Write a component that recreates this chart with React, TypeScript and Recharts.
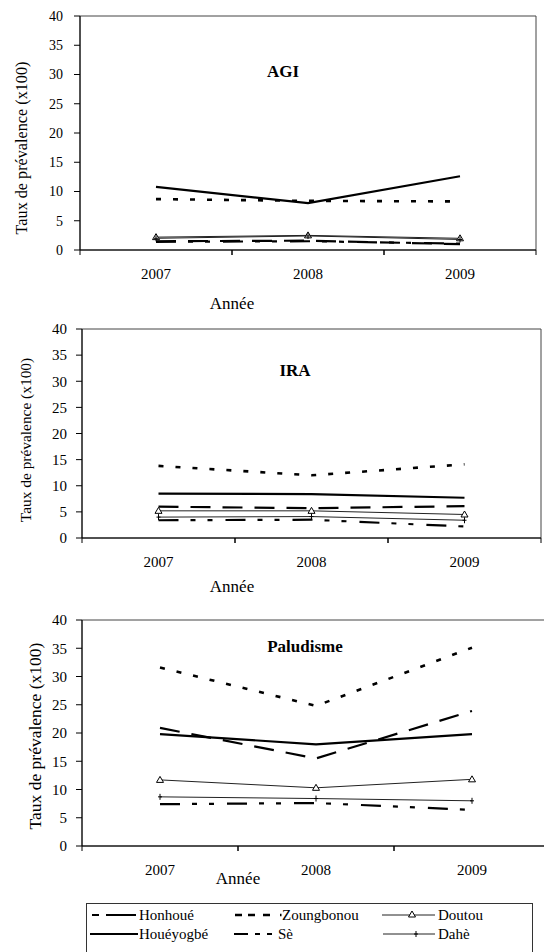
import React from 'react';
import { LineChart, Line, XAxis, YAxis, ReferenceArea, Legend } from 'recharts';

const FONT = "'Liberation Serif', 'DejaVu Serif', 'Times New Roman', Times, serif";

const years = ['2007', '2008', '2009'];
const yTicks = [0, 5, 10, 15, 20, 25, 30, 35, 40];
const seriesNames = ['Honhoué', 'Zoungbonou', 'Doutou', 'Houéyogbé', 'Sè', 'Dahè'];

// AGI
const agiHonhoue = [1.5, 1.6, 1.0];
const agiZoungbonou = [8.7, 8.4, 8.3];
const agiDoutou = [2.2, 2.5, 2.0];
const agiHoueyogbe = [10.8, 8.0, 12.6];
const agiSe = [1.4, 1.5, 1.1];
const agiDahe = [2.0, 2.4, 1.8];

// IRA
const iraHonhoue = [6.0, 5.7, 6.1];
const iraZoungbonou = [13.8, 12.0, 14.1];
const iraDoutou = [5.2, 5.2, 4.5];
const iraHoueyogbe = [8.5, 8.4, 7.7];
const iraSe = [3.4, 3.5, 2.2];
const iraDahe = [4.0, 4.1, 3.4];

// Paludisme
const paluHonhoue = [20.9, 15.5, 23.9];
const paluZoungbonou = [31.6, 24.8, 35.1];
const paluDoutou = [11.7, 10.3, 11.8];
const paluHoueyogbe = [19.8, 18.0, 19.8];
const paluSe = [7.4, 7.6, 6.4];
const paluDahe = [8.7, 8.4, 8.0];

function buildRows(values: number[][]) {
  return years.map((year, i) => {
    const row: any = { year };
    seriesNames.forEach((n, k) => {
      row[n] = values[k][i];
    });
    return row;
  });
}

const agiRows = buildRows([agiHonhoue, agiZoungbonou, agiDoutou, agiHoueyogbe, agiSe, agiDahe]);
const iraRows = buildRows([iraHonhoue, iraZoungbonou, iraDoutou, iraHoueyogbe, iraSe, iraDahe]);
const paluRows = buildRows([paluHonhoue, paluZoungbonou, paluDoutou, paluHoueyogbe, paluSe, paluDahe]);

const seriesStyle: Record<string, any> = {
  'Honhoué': { stroke: '#000', width: 2.2, dash: '20 12', marker: null },
  'Zoungbonou': { stroke: '#000', width: 2.6, dash: '5 12', marker: null },
  'Doutou': { stroke: '#222', width: 1, dash: undefined, marker: 'triangle' },
  'Houéyogbé': { stroke: '#000', width: 2.2, dash: undefined, marker: null },
  'Sè': { stroke: '#000', width: 2.2, dash: '20 12 5 12 5 13', marker: null },
  'Dahè': { stroke: '#222', width: 1, dash: undefined, marker: 'plus' },
};

const TriangleDot = (p: any) => {
  const { cx, cy } = p;
  if (cx == null || cy == null) return <g />;
  return (
    <path
      d={`M${cx},${cy - 3.5}L${cx + 3.5},${cy + 2.5}L${cx - 3.5},${cy + 2.5}Z`}
      fill="#fff"
      stroke="#000"
      strokeWidth={1}
    />
  );
};

const PlusDot = (p: any) => {
  const { cx, cy } = p;
  if (cx == null || cy == null) return <g />;
  return (
    <g>
      <line x1={cx} y1={cy - 3} x2={cx} y2={cy + 3} stroke="#000" strokeWidth={1} />
      <line x1={cx - 2} y1={cy} x2={cx + 2} y2={cy} stroke="#000" strokeWidth={1} />
    </g>
  );
};

const XTick = (props: any) => {
  const { x, y, payload, half, fontSize } = props;
  return (
    <g>
      <line x1={x - half} y1={y} x2={x - half} y2={y + 5} stroke="#000" strokeWidth={1} />
      <line x1={x + half} y1={y} x2={x + half} y2={y + 5} stroke="#000" strokeWidth={1} />
      <text
        x={x}
        y={y + 24}
        textAnchor="middle"
        dominantBaseline="central"
        style={{ fontFamily: FONT, fontSize }}
        fill="#000"
      >
        {payload.value}
      </text>
    </g>
  );
};

// row, column and sample positions of each legend entry (relative to the legend box)
const legendLayout: Record<string, any> = {
  'Honhoué': { row: 0, x1: 6, x2: 50, tx: 53, dash: '7 7 30 20' },
  'Zoungbonou': { row: 0, x1: 149, x2: 196, tx: 196, dash: '7 6 7 8 7 10 1.5 40' },
  'Doutou': { row: 0, x1: 296, x2: 349, tx: 352, dash: undefined, mx: 326 },
  'Houéyogbé': { row: 1, x1: 4, x2: 52, tx: 53, dash: undefined },
  'Sè': { row: 1, x1: 148, x2: 190, tx: 192, dash: '14 7 5 7 5 30' },
  'Dahè': { row: 1, x1: 297, x2: 349, tx: 352, dash: undefined, mx: 330 },
};

const LegendBox = (props: any) => {
  const payload = props.payload || [];
  return (
    <svg width={460} height={70} style={{ position: 'absolute', left: 0, top: 0, overflow: 'visible' }}>
      <rect x={0.5} y={0.5} width={446} height={90} fill="#fff" stroke="#333" strokeWidth={1} />
      {payload.map((entry: any) => {
        const name = entry.value;
        const lay = legendLayout[name];
        const st = seriesStyle[name];
        if (!lay || !st) return null;
        const ly = lay.row === 0 ? 12 : 31;
        return (
          <g key={name}>
            <line
              x1={lay.x1}
              y1={ly}
              x2={lay.x2}
              y2={ly}
              stroke={st.stroke}
              strokeWidth={st.width}
              strokeDasharray={lay.dash}
            />
            {st.marker === 'triangle' ? <TriangleDot cx={lay.mx} cy={ly - 0.5} /> : null}
            {st.marker === 'plus' ? <PlusDot cx={lay.mx} cy={ly} /> : null}
            <text
              x={lay.tx}
              y={ly}
              dominantBaseline="central"
              style={{ fontFamily: FONT, fontSize: 15 }}
              fill="#000"
            >
              {name}
            </text>
          </g>
        );
      })}
    </svg>
  );
};

type PanelProps = {
  rows: any[];
  title: string;
  top: number;
  width: number;
  height: number;
  margin: { top: number; right: number; bottom: number; left: number };
  yAxisWidth: number;
  yTickFont: number;
  yTickMargin: number;
  xTickFont: number;
  titlePos: [number, number];
  yLabelPos: [number, number];
  yLabelFont: number;
  xLabelPos: [number, number];
  xLabelFont: number;
  withLegend?: boolean;
};

const Panel = (p: PanelProps) => {
  const plotWidth = p.width - p.margin.left - p.margin.right - p.yAxisWidth;
  const half = plotWidth / years.length / 2;
  return (
    <div style={{ position: 'absolute', left: 0, top: p.top, width: p.width, height: p.height }}>
      <LineChart width={p.width} height={p.height} data={p.rows} margin={p.margin}>
        <ReferenceArea y1={0} y2={40} fill="none" stroke="#444" strokeWidth={1} ifOverflow="visible" />
        <XAxis
          dataKey="year"
          type="category"
          scale="band"
          height={40}
          interval={0}
          tickLine={false}
          tickSize={0}
          tickMargin={0}
          axisLine={{ stroke: '#000', strokeWidth: 1 }}
          tick={(props: any) => <XTick {...props} half={half} fontSize={p.xTickFont} />}
        />
        <YAxis
          type="number"
          domain={[0, 40]}
          ticks={yTicks}
          interval={0}
          width={p.yAxisWidth}
          tickSize={6}
          tickMargin={p.yTickMargin}
          axisLine={{ stroke: '#000', strokeWidth: 1 }}
          tickLine={{ stroke: '#000', strokeWidth: 1 }}
          tick={{ fill: '#000', fontSize: p.yTickFont, fontFamily: FONT, style: { fontFamily: FONT } }}
        />
        {seriesNames.map((name) => {
          const st = seriesStyle[name];
          const dot =
            st.marker === 'triangle'
              ? (props: any) => <TriangleDot key={`${name}-${props.index}`} {...props} />
              : st.marker === 'plus'
              ? (props: any) => <PlusDot key={`${name}-${props.index}`} {...props} />
              : false;
          return (
            <Line
              key={name}
              dataKey={name}
              name={name}
              type="linear"
              stroke={st.stroke}
              strokeWidth={st.width}
              strokeDasharray={st.dash}
              dot={dot as any}
              activeDot={false}
              isAnimationActive={false}
            />
          );
        })}
        {p.withLegend ? (
          <Legend
            content={(props: any) => <LegendBox {...props} />}
            wrapperStyle={{ position: 'absolute', left: 86, top: 303, bottom: 'auto', width: 447, height: 0, margin: 0 }}
          />
        ) : null}
        <text
          x={p.titlePos[0]}
          y={p.titlePos[1]}
          textAnchor="middle"
          dominantBaseline="central"
          style={{ fontFamily: FONT, fontSize: 17, fontWeight: 'bold' }}
          fill="#000"
        >
          {p.title}
        </text>
        <text
          x={p.yLabelPos[0]}
          y={p.yLabelPos[1]}
          textAnchor="middle"
          dominantBaseline="central"
          transform={`rotate(-90 ${p.yLabelPos[0]} ${p.yLabelPos[1]})`}
          style={{ fontFamily: FONT, fontSize: p.yLabelFont }}
          fill="#000"
        >
          Taux de prévalence (x100)
        </text>
        <text
          x={p.xLabelPos[0]}
          y={p.xLabelPos[1]}
          textAnchor="middle"
          dominantBaseline="central"
          style={{ fontFamily: FONT, fontSize: p.xLabelFont }}
          fill="#000"
        >
          Année
        </text>
      </LineChart>
    </div>
  );
};

export default function App() {
  return (
    <div
      style={{
        position: 'absolute',
        left: 0,
        top: 0,
        width: 544,
        height: 952,
        overflow: 'hidden',
        background: '#fff',
      }}
    >
      <Panel
        rows={agiRows}
        title="AGI"
        top={0}
        width={544}
        height={320}
        margin={{ top: 16, right: 8, bottom: 30, left: 0 }}
        yAxisWidth={80}
        yTickFont={14}
        yTickMargin={11}
        xTickFont={15}
        titlePos={[283, 71]}
        yLabelPos={[22, 148]}
        yLabelFont={16.2}
        xLabelPos={[232, 303]}
        xLabelFont={17}
      />
      <Panel
        rows={iraRows}
        title="IRA"
        top={300}
        width={544}
        height={300}
        margin={{ top: 29, right: 3, bottom: 22, left: 0 }}
        yAxisWidth={82}
        yTickFont={15}
        yTickMargin={9}
        xTickFont={15}
        titlePos={[295, 70]}
        yLabelPos={[25, 140]}
        yLabelFont={15.4}
        xLabelPos={[232, 286]}
        xLabelFont={17}
      />
      <Panel
        rows={paluRows}
        title="Paludisme"
        top={600}
        width={560}
        height={352}
        margin={{ top: 20, right: 10, bottom: 66, left: 0 }}
        yAxisWidth={82}
        yTickFont={15}
        yTickMargin={9}
        xTickFont={15}
        titlePos={[305, 46.5]}
        yLabelPos={[35, 136]}
        yLabelFont={17.5}
        xLabelPos={[238, 278]}
        xLabelFont={17}
        withLegend
      />
    </div>
  );
}
